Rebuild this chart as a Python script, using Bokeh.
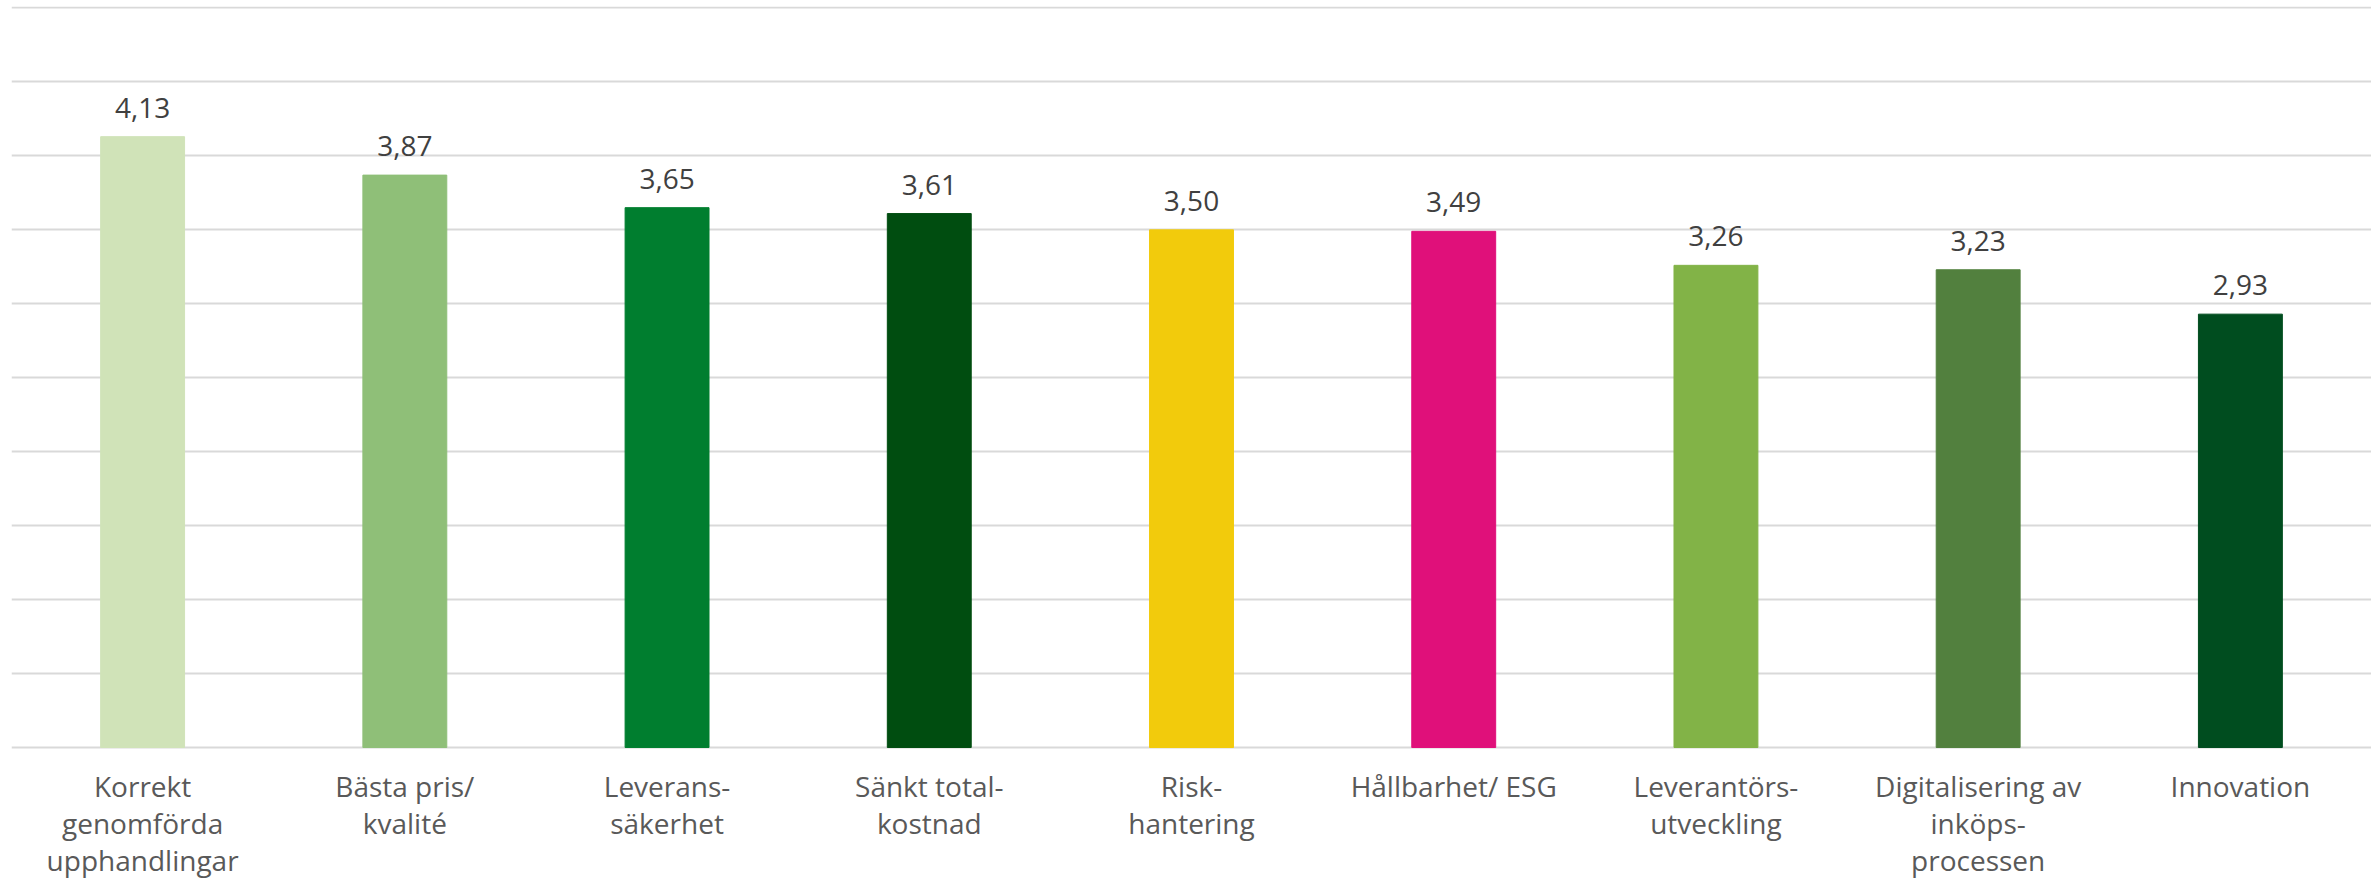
from bokeh.plotting import figure
from bokeh.models import Range1d, FixedTicker, ColumnDataSource
from bokeh.embed import file_html
from bokeh.resources import INLINE
from bokeh.core.properties import value

categories = [
    "Korrekt\ngenomförda\nupphandlingar",
    "Bästa pris/\nkvalité",
    "Leverans-\nsäkerhet",
    "Sänkt total-\nkostnad",
    "Risk-\nhantering",
    "Hållbarhet/ ESG",
    "Leverantörs-\nutveckling",
    "Digitalisering av\ninköps-\nprocessen",
    "Innovation",
]
values = [4.13, 3.87, 3.65, 3.61, 3.50, 3.49, 3.26, 3.23, 2.93]
colors = ["#D0E3B8", "#8FBF78", "#007E2F", "#004D10", "#F2CB0C",
          "#E0107A", "#82B347", "#52803E", "#004D1F"]
grid_ticks = [0, 0.5, 1, 1.5, 2, 2.5, 3, 3.5, 4, 4.5, 5]

labels = [f"{v:.2f}".replace(".", ",") for v in values]
src = ColumnDataSource(dict(cat=categories, val=values, col=colors, lab=labels,
                            base=[0] * len(values)))

# frame reaches the bottom; the space below 0 holds the category labels
p = figure(x_range=categories, y_range=Range1d(-0.899, 5.01), width=2371, height=880,
           output_backend="svg", toolbar_location=None,
           min_border_left=11, min_border_right=0, min_border_top=6, min_border_bottom=0)
p.outline_line_color = None
p.background_fill_color = "white"
p.border_fill_color = "white"

p.ygrid.ticker = FixedTicker(ticks=grid_ticks)
p.ygrid.grid_line_color = "#D9D9D9"
p.ygrid.grid_line_width = 2
p.xgrid.grid_line_color = None
p.xaxis.visible = False
p.yaxis.visible = False

p.vbar(x="cat", top="val", bottom="base", width=0.32, color="col", source=src)

p.text(x="cat", y="val", text="lab", source=src, y_offset=-29,
       text_align="center", text_baseline="alphabetic",
       text_font=value("Open Sans"), text_font_size="28px", text_color="#404040")

p.text(x="cat", y="base", text="cat", source=src, y_offset=19,
       text_align="center", text_baseline="top", text_line_height=0.98,
       text_font=value("Open Sans"), text_font_size="28px", text_color="#595959")

open("out.html", "w").write(file_html(p, INLINE))
